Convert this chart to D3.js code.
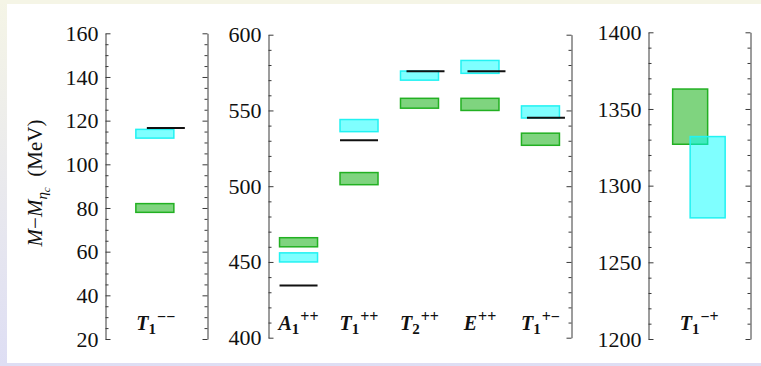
<!DOCTYPE html>
<html>
<head>
<meta charset="utf-8">
<script src="https://cdn.jsdelivr.net/npm/d3@7"></script>
<style>
  html, body { margin: 0; padding: 0; background: #fff; }
  svg { display: block; }
  svg text { font-family: "Liberation Serif", "Times New Roman", serif; }
</style>
</head>
<body>
<svg id="chart" width="761" height="366"></svg>
<script>
// Charmonium level splittings relative to the eta_c, grouped by channel.
const channels   = ["T1--", "A1++", "T1++", "T2++", "E++", "T1+-", "T1-+"];
const channelPanel = [0, 1, 1, 1, 1, 1, 2];
const channelSymbol = ["T", "A", "T", "T", "E", "T", "T"];
const channelIndex  = ["1", "1", "1", "2", "", "1", "1"];
const channelPC     = ["\u2212\u2212", "++", "++", "++", "++", "+\u2212", "\u2212+"];

// Green band (lower / upper edge), MeV
const greenLow  = [78, 460, 501, 551.5, 550, 527, 1327];
const greenHigh = [82, 466, 509, 558, 558, 535, 1363];
// Cyan band (lower / upper edge), MeV
const cyanLow   = [112, 450, 536, 570, 574.5, 545, 1279];
const cyanHigh  = [116, 456, 544, 576, 583, 553, 1332];
// Experimental splittings, MeV (none for the exotic channel)
const expValues = [116.6, 434.5, 530.4, 575.9, 575.9, 545.1, null];

// Axis ranges and tick labels of the three panels
const panelDomains = [[20, 160], [400, 600], [1200, 1400]];
const panelTicks = [
  [20, 40, 60, 80, 100, 120, 140, 160],
  [400, 450, 500, 550, 600],
  [1200, 1250, 1300, 1350, 1400]
];
const panelMinorStep = [5, 10, 10];

// ---- layout ----
const svg = d3.select("#chart");
const W = 761, H = 366;

const bg = svg.append("defs").append("linearGradient")
  .attr("id", "bgGrad").attr("x1", "0").attr("y1", "0").attr("x2", "0").attr("y2", "1");
bg.append("stop").attr("offset", "0").attr("stop-color", "#f5f5e6");
bg.append("stop").attr("offset", "1").attr("stop-color", "#dedef4");
svg.append("rect").attr("width", W).attr("height", H).attr("fill", "url(#bgGrad)");
svg.append("rect").attr("x", 0).attr("y", 0).attr("width", W).attr("height", 4).attr("fill", "#f5f5e6");
svg.append("rect").attr("x", 7).attr("y", 4).attr("width", W - 7).attr("height", 359).attr("fill", "#ffffff");

const panels = [
  { left: 105, right: 206.7, top: 33.3, bottom: 339 },
  { left: 268.3, right: 570.7, top: 34.7, bottom: 337.7 },
  { left: 648.3, right: 750, top: 32.3, bottom: 339 }
];

const boxWidth = 38;
// horizontal nudges of marks inside a channel column
const greenShift = { "T1--": -1, "T1-+": -9 };
const cyanShift  = { "T1--": -1, "T1-+": 8.5 };
const expShift   = { "T1--": 10, "T2++": 6, "E++": 6.5, "T1+-": 5.5 };
const boxWidthOf = { "T1-+": 35 };

const axisColor = "#3a3a3a";

panels.forEach((p, pi) => {
  const idx = channels.map((c, i) => i).filter(i => channelPanel[i] === pi);
  const y = d3.scaleLinear().domain(panelDomains[pi]).range([p.bottom, p.top]);
  const x = d3.scalePoint().domain(idx.map(i => channels[i]))
    .range([p.left, p.right]).padding(0.5);

  const [d0, d1] = panelDomains[pi];
  const minor = d3.range(d0, d1 + 1e-9, panelMinorStep[pi])
    .filter(v => !panelTicks[pi].includes(v));

  const g = svg.append("g");

  // left axis: labels outside, ticks inward
  const la = g.append("g").attr("transform", `translate(${Math.round(p.left) + 0.5},0)`)
    .call(d3.axisLeft(y).tickValues(panelTicks[pi]).tickFormat(d3.format("d"))
      .tickSizeInner(-5).tickSizeOuter(0).tickPadding(7));
  la.append("g").call(d3.axisLeft(y).tickValues(minor).tickSizeInner(-3).tickSizeOuter(0).tickFormat(""))
    .select(".domain").remove();
  // right axis: ticks only
  const ra = g.append("g").attr("transform", `translate(${Math.round(p.right) + 0.5},0)`)
    .call(d3.axisRight(y).tickValues(panelTicks[pi]).tickSizeInner(-5).tickSizeOuter(0).tickFormat(""));
  ra.append("g").call(d3.axisRight(y).tickValues(minor).tickSizeInner(-3).tickSizeOuter(0).tickFormat(""))
    .select(".domain").remove();

  g.selectAll(".domain, .tick line").attr("stroke", axisColor).attr("stroke-width", 1);
  g.selectAll("g").attr("font-family", null);
  g.selectAll(".tick text").style("font-size", "22px").attr("fill", "#111");

  // bands and experimental lines
  idx.forEach(i => {
    const c = channels[i];
    const cx = x(c);
    const bw = boxWidthOf[c] || boxWidth;
    const gs = greenShift[c] || 0, cs = cyanShift[c] || 0;

    g.append("rect")
      .attr("x", cx + gs - bw / 2).attr("width", bw)
      .attr("y", y(greenHigh[i])).attr("height", y(greenLow[i]) - y(greenHigh[i]))
      .attr("fill", "rgb(0,170,0)").attr("fill-opacity", 0.5)
      .attr("stroke", "#22b022").attr("stroke-width", 1.5);

    g.append("rect")
      .attr("x", cx + cs - bw / 2).attr("width", bw)
      .attr("y", y(cyanHigh[i])).attr("height", y(cyanLow[i]) - y(cyanHigh[i]))
      .attr("fill", "rgb(0,255,255)").attr("fill-opacity", 0.5)
      .attr("stroke", "#22f2f2").attr("stroke-width", 1.5);

    if (expValues[i] != null) {
      const es = expShift[c] || 0;
      g.append("line")
        .attr("x1", cx + es - bw / 2).attr("x2", cx + es + bw / 2)
        .attr("y1", y(expValues[i])).attr("y2", y(expValues[i]))
        .attr("stroke", "#111").attr("stroke-width", 2);
    }

    // channel label, e.g. T_1^{++}
    const t = g.append("text")
      .attr("x", cx).attr("y", 330)
      .attr("text-anchor", "middle")
      .attr("font-weight", "bold").attr("fill", "#111");
    t.append("tspan").attr("font-style", "italic").attr("font-size", 20).text(channelSymbol[i]);
    if (channelIndex[i]) {
      t.append("tspan").attr("font-size", 15).attr("dy", 4).text(channelIndex[i]);
      t.append("tspan").attr("font-size", 16).attr("dy", -12).attr("dx", 1).text(channelPC[i]);
    } else {
      t.append("tspan").attr("font-size", 16).attr("dy", -8).attr("dx", 1).text(channelPC[i]);
    }
  });
});

// vertical axis title: M − M_{η_c} (MeV)
const yl = svg.append("text")
  .attr("transform", "translate(41.5,183) rotate(-90)")
  .attr("text-anchor", "middle")
  .attr("font-size", 21).attr("fill", "#111");
yl.append("tspan").attr("font-style", "italic").text("M");
yl.append("tspan").text("\u2212");
yl.append("tspan").attr("font-style", "italic").text("M");
yl.append("tspan").attr("font-style", "italic").attr("font-size", 15).attr("dy", 5).text("\u03b7");
yl.append("tspan").attr("font-style", "italic").attr("font-size", 11).attr("dy", 3).text("c");
yl.append("tspan").attr("dy", -8).text("\u2002(MeV)");
</script>
</body>
</html>
